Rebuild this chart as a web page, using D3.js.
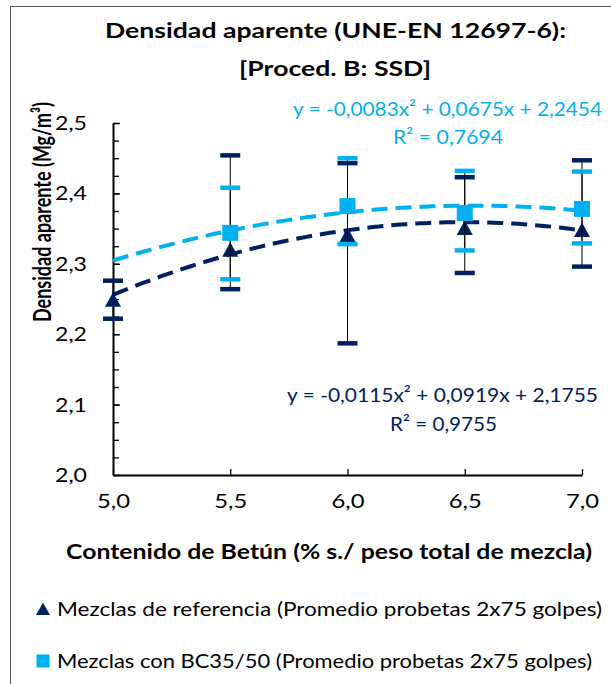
<!DOCTYPE html>
<html>
<head>
<meta charset="utf-8">
<script src="https://cdn.jsdelivr.net/npm/d3@7"></script>
<style>
  body { margin: 0; background: #fff; }
  svg { display: block; }
  text { font-family: Lato, "Open Sans", sans-serif; }
</style>
</head>
<body>
<script>
// Contenido de betun (% s/ peso total de mezcla)
var betun = [5.0, 5.5, 6.0, 6.5, 7.0];

// Mezclas de referencia (promedio + barras de error)
var refMedia = [2.249, 2.320, 2.341, 2.351, 2.348];
var refAlto  = [2.276, 2.454, 2.443, 2.423, 2.447];
var refBajo  = [2.222, 2.264, 2.187, 2.287, 2.296];

// Mezclas con BC35/50 (sin dato en 5,0)
var bcMedia = [null, 2.344, 2.382, 2.372, 2.378];
var bcAlto  = [null, 2.408, 2.450, 2.432, 2.431];
var bcBajo  = [null, 2.278, 2.328, 2.319, 2.329];

// coeficientes de las lineas de tendencia (x = 1..5)
var refTend = [-0.0115, 0.0919, 2.1755];
var bcTend  = [-0.0083, 0.0675, 2.2454];

var yTicks = [2.0, 2.1, 2.2, 2.3, 2.4, 2.5];
var yMinor = d3.range(0, 21).map(function(i) { return 2.0 + i * 0.025; });

var colRef = "#002060",
    colBC = "#00b0f0";

var width = 611, height = 684;

var svg = d3.select("body").append("svg")
    .attr("width", width)
    .attr("height", height);

// borde del grafico
svg.append("rect")
    .attr("x", 10.5).attr("y", 6.5)
    .attr("width", 620).attr("height", 700)
    .attr("fill", "none")
    .attr("stroke", "#595959")
    .attr("stroke-width", 1);

var xScale = d3.scaleLinear().domain([5, 7]).range([113, 582]);
var yScale = d3.scaleLinear().domain([2.0, 2.5]).range([475, 123]);

// helper: text stretched to a measured width
function addText(x, y, str, opts) {
  var t = svg.append("text")
      .attr("x", x).attr("y", y)
      .attr("text-anchor", opts.anchor || "middle")
      .style("font-size", opts.size + "px")
      .style("font-weight", opts.bold ? "bold" : "normal")
      .attr("fill", opts.color || "#000")
      .text(str);
  if (opts.len) t.attr("textLength", opts.len).attr("lengthAdjust", "spacingAndGlyphs");
  if (opts.rotate) t.attr("transform", "rotate(-90," + x + "," + y + ")");
  return t;
}

// titulo
addText(335.5, 38, "Densidad aparente (UNE-EN 12697-6):", {size: 21, bold: true, len: 461});
addText(335, 76, "[Proced. B: SSD]", {size: 21, bold: true, len: 192});

// ejes
var yAxis = d3.axisLeft(yScale)
    .tickValues(yTicks)
    .tickSizeInner(-7)
    .tickSizeOuter(0)
    .tickPadding(26)
    .tickFormat(function(d) { return d3.format(".1f")(d).replace(".", ","); });

var yMinorAxis = d3.axisLeft(yScale)
    .tickValues(yMinor)
    .tickSizeInner(-6)
    .tickSizeOuter(0)
    .tickFormat("");

var xAxis = d3.axisBottom(xScale)
    .tickValues(betun)
    .tickSizeInner(-6)
    .tickSizeOuter(0)
    .tickPadding(19)
    .tickFormat(function(d) { return d3.format(".1f")(d).replace(".", ","); });

var gyMinor = svg.append("g")
    .attr("transform", "translate(113,0)")
    .call(yMinorAxis);
gyMinor.select(".domain").remove();
gyMinor.selectAll("line").attr("stroke", "#000").attr("stroke-width", 1.3);

var gy = svg.append("g")
    .attr("transform", "translate(113,0)")
    .call(yAxis);
gy.select(".domain").attr("stroke-width", 2);
gy.selectAll("line").attr("stroke-width", 1.3);
gy.selectAll("text")
    .style("font-size", "20px")
    .style("font-family", "Lato, sans-serif")
    .attr("textLength", 32).attr("lengthAdjust", "spacingAndGlyphs");

var gx = svg.append("g")
    .attr("transform", "translate(0,475)")
    .call(xAxis);
gx.select(".domain").attr("stroke-width", 2);
gx.selectAll("line").attr("stroke-width", 1.3);
gx.selectAll("text")
    .style("font-size", "20px")
    .style("font-family", "Lato, sans-serif")
    .attr("textLength", 33).attr("lengthAdjust", "spacingAndGlyphs");

// titulos de ejes
addText(51, 212, "Densidad aparente (Mg/m³)", {size: 25, bold: true, len: 220, rotate: true});
addText(329, 559, "Contenido de Betún (% s./ peso total de mezcla)", {size: 20, bold: true, len: 526});

// lineas de tendencia (polinomica, x = indice 1..5)
function tendencia(c) {
  return d3.range(1, 5.001, 0.05).map(function(i) {
    return [5 + (i - 1) * 0.5, c[0] * i * i + c[1] * i + c[2]];
  });
}
var line = d3.line()
    .x(function(d) { return xScale(d[0]); })
    .y(function(d) { return yScale(d[1]); })
    .curve(d3.curveMonotoneX);

svg.append("path")
    .datum(tendencia(refTend))
    .attr("d", line)
    .attr("fill", "none")
    .attr("stroke", colRef)
    .attr("stroke-width", 4)
    .attr("stroke-dasharray", "16,8");

svg.append("path")
    .datum(tendencia(bcTend))
    .attr("d", line)
    .attr("fill", "none")
    .attr("stroke", colBC)
    .attr("stroke-width", 4)
    .attr("stroke-dasharray", "16,8");

// barras de error + marcadores
function serie(media, alto, bajo, color, simbolo) {
  var data = betun.map(function(x, i) {
    return {x: x, m: media[i], hi: alto[i], lo: bajo[i]};
  }).filter(function(d) { return d.m !== null; });

  var g = svg.append("g");
  g.selectAll(".bar").data(data).enter().append("line")
      .attr("x1", function(d) { return xScale(d.x); })
      .attr("x2", function(d) { return xScale(d.x); })
      .attr("y1", function(d) { return yScale(d.hi); })
      .attr("y2", function(d) { return yScale(d.lo); })
      .attr("stroke", "#000")
      .attr("stroke-width", 1);

  ["hi", "lo"].forEach(function(k) {
    g.selectAll(".cap-" + k).data(data).enter().append("line")
        .attr("x1", function(d) { return xScale(d.x) - 10; })
        .attr("x2", function(d) { return xScale(d.x) + 10; })
        .attr("y1", function(d) { return yScale(d[k]); })
        .attr("y2", function(d) { return yScale(d[k]); })
        .attr("stroke", color)
        .attr("stroke-width", 4.5);
  });

  g.selectAll(".mk").data(data).enter().append("path")
      .attr("transform", function(d) {
        return "translate(" + xScale(d.x) + "," + yScale(d.m) + ")";
      })
      .attr("d", simbolo)
      .attr("fill", color);
}

var triangulo = "M0,-7.5L8,7L-8,7Z";
var cuadrado = "M-8,-8H8V8H-8Z";

serie(refMedia, refAlto, refBajo, colRef, triangulo);
serie(bcMedia, bcAlto, bcBajo, colBC, cuadrado);

// ecuaciones
addText(447.5, 116, "y = -0,0083x² + 0,0675x + 2,2454", {size: 20, color: colBC, len: 309});
addText(448, 144, "R² = 0,7694", {size: 20, color: colBC, len: 110});
addText(442.5, 402, "y = -0,0115x² + 0,0919x + 2,1755", {size: 20, color: colRef, len: 311});
addText(443.5, 431, "R² = 0,9755", {size: 20, color: colRef, len: 107});

// leyenda
var leyenda = [
  {nombre: "Mezclas de referencia (Promedio probetas 2x75 golpes)", color: colRef, simbolo: "M0,-6.5L7,6L-7,6Z"},
  {nombre: "Mezclas con BC35/50 (Promedio probetas 2x75 golpes)", color: colBC, simbolo: "M-6.5,-6.5H6.5V6.5H-6.5Z"}
];
var leg = svg.selectAll(".legend").data(leyenda).enter().append("g")
    .attr("class", "legend")
    .attr("transform", function(d, i) { return "translate(0," + (609 + i * 52) + ")"; });
leg.append("path")
    .attr("transform", "translate(43,0)")
    .attr("d", function(d) { return d.simbolo; })
    .attr("fill", function(d) { return d.color; });
leg.append("text")
    .attr("x", 57).attr("y", 7)
    .style("font-size", "20px")
    .attr("textLength", function(d, i) { return i === 0 ? 545 : 535; })
    .attr("lengthAdjust", "spacingAndGlyphs")
    .text(function(d) { return d.nombre; });
</script>
</body>
</html>
